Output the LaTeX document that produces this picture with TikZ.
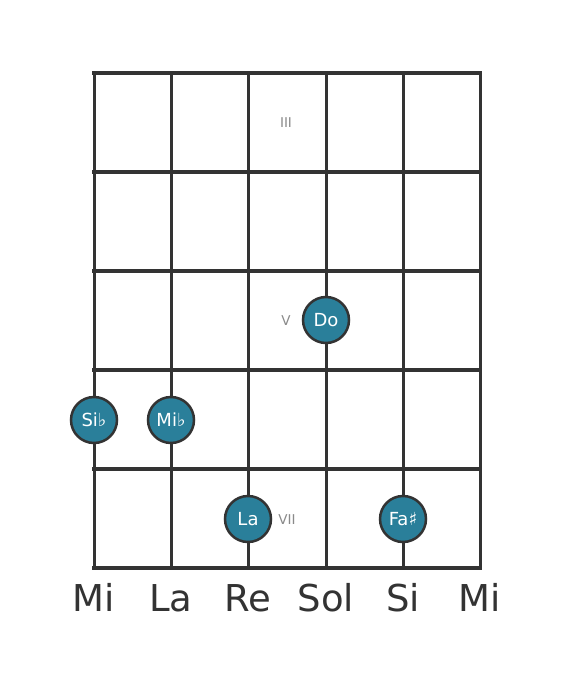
\documentclass[tikz,border=0pt]{standalone}
\usepackage{fontspec}
\setmainfont{DejaVu Sans}
\definecolor{gridc}{HTML}{333333}
\definecolor{dotc}{HTML}{2A7F9A}
\definecolor{fretc}{HTML}{8A8A8A}
\begin{document}
\begin{tikzpicture}[x=1pt,y=-1pt,
  hline/.style={draw=gridc,line width=4.5pt},
  vline/.style={draw=gridc,line width=3pt},
  notedot/.style={circle,draw=gridc,line width=2.5pt,fill=dotc,minimum size=46pt,inner sep=0pt,text=white,font=\fontsize{18}{20}\selectfont},
  fretlbl/.style={text=fretc,font=\fontsize{13.5}{15}\selectfont,inner sep=0pt},
  strlbl/.style={text=gridc,font=\fontsize{37}{40}\selectfont,inner sep=0pt,anchor=base}]
\useasboundingbox (0,0) rectangle (568,682);
\fill[white] (0,0) rectangle (568,682);
% strings
\foreach \x in {94,171,248,326,403,480}
  \draw[vline] (\x,73) -- (\x,568);
% frets
\foreach \y in {73,172,271,370,469,568}
  \draw[hline,line cap=rect] (94,\y) -- (480,\y);
% fret labels
\node[fretlbl] (f3) at (286,123) {III};
\node[fretlbl] (f5) at (286,321) {V};
\node[fretlbl] (f7) at (287,520) {VII};
% notes
\node[notedot] (do) at (326,320) {Do};
\node[notedot] (sib) at (94,420) {Si♭};
\node[notedot] (mib) at (171,420) {Mi♭};
\node[notedot] (la) at (248,519) {La};
\node[notedot] (fas) at (403,519) {Fa♯};
% string names
\node[strlbl] (s1) at (94,611) {Mi};
\node[strlbl] (s2) at (171,611) {La};
\node[strlbl] (s3) at (248,611) {Re};
\node[strlbl] (s4) at (326,611) {Sol};
\node[strlbl] (s5) at (403,611) {Si};
\node[strlbl] (s6) at (480,611) {Mi};
\end{tikzpicture}
\end{document}
